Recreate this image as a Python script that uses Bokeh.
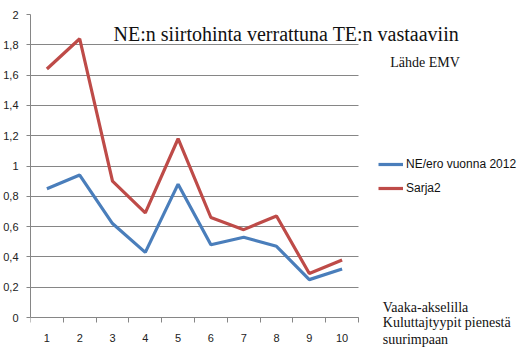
from bokeh.plotting import figure
from bokeh.models import (Range1d, FixedTicker, CustomJSTickFormatter, Legend, LegendItem, Label)
from bokeh.embed import file_html
from bokeh.resources import INLINE

categories = [1, 2, 3, 4, 5, 6, 7, 8, 9, 10]
ne_ero_2012 = [0.85, 0.94, 0.62, 0.43, 0.88, 0.48, 0.53, 0.47, 0.25, 0.32]
sarja2 = [1.64, 1.84, 0.90, 0.69, 1.18, 0.66, 0.58, 0.67, 0.29, 0.38]
y_ticks = [0, 0.2, 0.4, 0.6, 0.8, 1.0, 1.2, 1.4, 1.6, 1.8, 2.0]
series_names = ["NE/ero vuonna 2012", "Sarja2"]
title_text = "NE:n siirtohinta verrattuna TE:n vastaaviin"
source_text = "Lähde EMV"
note_lines = ["Vaaka-akselilla", "Kuluttajtyypit pienestä", "suurimpaan"]

BLUE = "#4A7EBB"
RED = "#BE4B48"
GRID = "#868686"
SANS = "Liberation Sans"
SERIF = "Liberation Serif"

x_lo, x_hi = 0.5, 10.5
px_per_cat = 32.8
frame_w = 500
x_end = x_lo + frame_w / px_per_cat
px_per_unit = 151.5
y_start = -35 / px_per_unit

p = figure(width=531, height=353, output_backend="svg", toolbar_location=None,
           x_range=Range1d(x_lo, x_end), y_range=Range1d(y_start, 2.0),
           min_border_left=30, min_border_right=1, min_border_top=14, min_border_bottom=1)
p.outline_line_color = None
p.background_fill_color = "white"
p.border_fill_color = "white"

# axes
p.xaxis.fixed_location = 0
p.xaxis.bounds = (x_lo, x_hi)
p.xaxis.ticker = FixedTicker(ticks=categories,
                             minor_ticks=[c - 0.5 for c in categories] + [categories[-1] + 0.5])
p.xaxis.major_tick_line_color = None
p.xaxis.major_tick_out = 0
p.xaxis.major_tick_in = 0
p.xaxis.minor_tick_out = 5
p.xaxis.minor_tick_in = 0
p.xaxis.minor_tick_line_color = GRID
p.xaxis.axis_line_color = GRID
p.xaxis.major_label_standoff = 11
p.xaxis.major_label_text_font = SANS
p.xaxis.major_label_text_font_size = "11px"
p.xaxis.major_label_text_color = "#222222"

p.yaxis.bounds = (0, 2.0)
p.yaxis.ticker = FixedTicker(ticks=y_ticks)
p.yaxis.formatter = CustomJSTickFormatter(code="""
var s = (Math.round(tick*10)/10).toString();
return s.replace('.', ',');
""")
p.yaxis.major_tick_out = 4
p.yaxis.major_tick_in = 0
p.yaxis.minor_tick_line_color = None
p.yaxis.major_tick_line_color = GRID
p.yaxis.axis_line_color = GRID
p.yaxis.major_label_standoff = 8
p.yaxis.major_label_text_font = SANS
p.yaxis.major_label_text_font_size = "11px"
p.yaxis.major_label_text_color = "#222222"

p.xgrid.grid_line_color = None
p.ygrid.ticker = FixedTicker(ticks=y_ticks)
p.ygrid.cross_bounds = (x_lo, x_hi)
p.ygrid.grid_line_color = GRID
p.ygrid.grid_line_width = 1

r1 = p.line(categories, ne_ero_2012, line_color=BLUE, line_width=3.2)
r2 = p.line(categories, sarja2, line_color=RED, line_width=3.2)

legend = Legend(items=[LegendItem(label=series_names[0], renderers=[r1]),
                       LegendItem(label=series_names[1], renderers=[r2])],
                location=(348, 154), padding=0, margin=0, spacing=4,
                glyph_width=25, glyph_height=20, label_standoff=3,
                label_text_font=SANS, label_text_font_size="12px",
                label_text_color="#111111",
                border_line_color=None, background_fill_alpha=0)
p.add_layout(legend, "center")

p.add_layout(Label(x=8.30, y=1.868, text=title_text, text_align="center",
                   text_baseline="middle", text_font=SERIF, text_font_size="20px",
                   text_color="#111111"))
p.add_layout(Label(x=11.47, y=1.686, text=source_text, text_align="left",
                   text_baseline="middle", text_font=SERIF, text_font_size="14px",
                   text_color="#111111"))
note_y = [0.066, -0.035, -0.145]
for line, yy in zip(note_lines, note_y):
    p.add_layout(Label(x=11.24, y=yy, text=line, text_align="left",
                       text_baseline="middle", text_font=SERIF, text_font_size="14px",
                       text_color="#111111"))

open("out.html", "w").write(file_html(p, INLINE))
